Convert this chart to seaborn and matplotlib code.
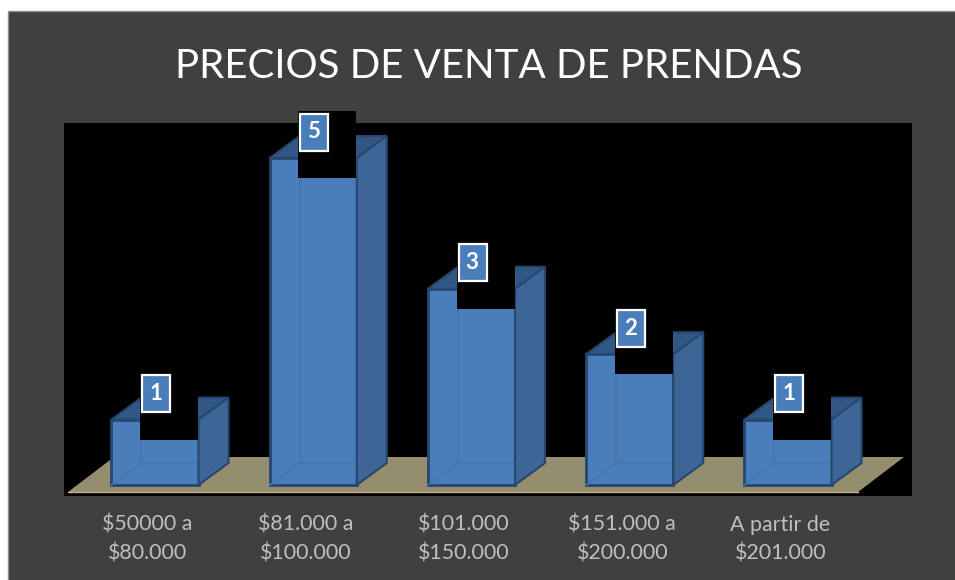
import matplotlib
matplotlib.use("Agg")
import matplotlib.pyplot as plt
from matplotlib.patches import Rectangle
from matplotlib.transforms import ScaledTranslation
import pandas as pd
import seaborn as sns

# Data
rangos = ["$50000 a\n$80.000", "$81.000 a\n$100.000", "$101.000\n$150.000",
          "$151.000 a\n$200.000", "A partir de\n$201.000"]
prendas = [1, 5, 3, 2, 1]
titulo = "PRECIOS DE VENTA DE PRENDAS"

FRONT = "#4A7EBB"
SIDE = "#3D6595"
TOP = "#325784"
EDGE = "#264770"
FLOOR = "#958E6E"
FONDO = "#404040"

sns.set_theme(style="white")
plt.rcParams["font.family"] = ["Lato", "DejaVu Sans"]

df = pd.DataFrame({"rango": rangos, "prendas": prendas})

fig = plt.figure(figsize=(9.55, 5.8), dpi=100, facecolor="white")
# dark panel, starts a little in from the left and top
fig.patches.append(Rectangle((8 / 955, -0.05), 1.1, 1.05 - 11 / 580, transform=fig.transFigure,
                             facecolor=FONDO, edgecolor="#8C8C8C", linewidth=1, zorder=-5))
ax = fig.add_axes([64 / 955, 84 / 580, 848 / 955, 373 / 580], facecolor="black")

sns.barplot(data=df, x="rango", y="prendas", color=FRONT, saturation=1, width=0.55,
            edgecolor=EDGE, linewidth=2, zorder=5, ax=ax)

# 158.25 px per category, 65.4 px per unit, base line at pixel y=485
px_x = 158.25
px_y = 65.4
ax.set_xlim(-91 / px_x, 757 / px_x)
ax.set_ylim(-11 / px_y, 362 / px_y)
ax.set_xlabel("")
ax.set_ylabel("")
ax.set_yticks([])
sns.despine(ax=ax, left=True, bottom=True, top=True, right=True)

# tan floor
ax.fill([-87 / px_x, -41 / px_x, 749 / px_x, 703 / px_x],
        [-7 / px_y, 28 / px_y, 28 / px_y, -7 / px_y], color=FLOOR, lw=0, zorder=1)
ax.plot([-87 / px_x, 703 / px_x], [-7 / px_y, -7 / px_y], color="#C9B48F", lw=1, zorder=1.5)

dx = 30 / px_x
dy = 22 / px_y
for bar, valor in zip(ax.patches, prendas):
    x0 = bar.get_x()
    x1 = x0 + bar.get_width()
    h = bar.get_height()
    # top and right faces
    ax.fill([x0, x0 + dx, x1 + dx, x1], [h, h + dy, h + dy, h], facecolor=TOP,
            edgecolor=EDGE, lw=1.5, zorder=4)
    ax.fill([x1, x1 + dx, x1 + dx, x1], [0, dy, h + dy, h], facecolor=SIDE,
            edgecolor=EDGE, lw=1.5, zorder=6)
    # hidden edges showing through the front
    ax.plot([x0, x0 + dx, x1 + dx], [0, dy, dy], color="#4475AE", lw=1.2, zorder=5.5)
    ax.plot([x0 + dx, x0 + dx], [dy, h], color="#4475AE", lw=1.2, zorder=5.5)

    # black block behind the label, it also cuts into the bar
    cx = x0 + bar.get_width() / 2
    ax.add_patch(Rectangle((cx - 15 / px_x, h - 20 / px_y), 58 / px_x, 67 / px_y,
                           facecolor="black", lw=0, clip_on=False, zorder=7))
    ax.add_patch(Rectangle((cx - 13 / px_x, h + 7.5 / px_y), 28 / px_x, 37 / px_y,
                           facecolor=FRONT, edgecolor="white", lw=1.6, clip_on=False, zorder=8))
    ax.text(cx + 0.5 / px_x, h + 26 / px_y, str(valor), color="white", fontsize=16,
            fontweight="bold", ha="center", va="center", zorder=9)

ax.tick_params(axis="x", length=0, pad=13.5)
ax.set_xticks(range(len(rangos)))
ax.set_xticklabels(rangos, fontsize=15.4, color="#BFBFBF", linespacing=1.55)
corrimiento = ScaledTranslation(-7.5 / 100, 0, fig.dpi_scale_trans)
for etiqueta in ax.get_xticklabels():
    etiqueta.set_transform(etiqueta.get_transform() + corrimiento)

fig.text(489 / 955, 1 - 78 / 580, titulo, color="white", fontsize=29, ha="center", va="baseline")

fig.savefig("out.png", dpi=100, facecolor="white")
